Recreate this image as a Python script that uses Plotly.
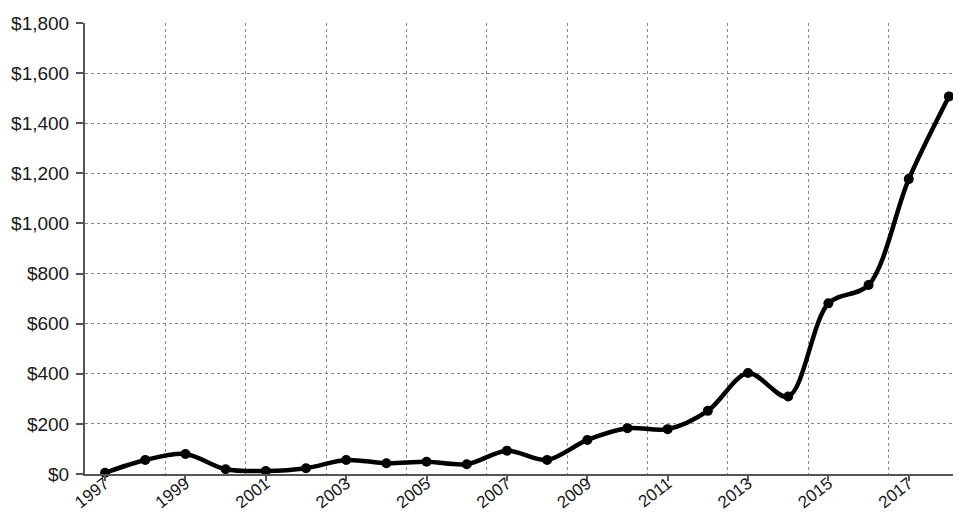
import plotly.graph_objects as go

years = list(range(1997, 2019))
values = [5, 56, 80, 19, 12, 23, 56, 43, 49, 39, 93, 56, 136, 183, 179, 252, 403, 309, 681, 754, 1177, 1507]
y_ticks = [0, 200, 400, 600, 800, 1000, 1200, 1400, 1600, 1800]
y_tick_labels = ["$0", "$200", "$400", "$600", "$800", "$1,000", "$1,200", "$1,400", "$1,600", "$1,800"]
x_tick_years = list(range(1997, 2019, 2))
x_grid_positions = [y + 0.5 for y in range(1998, 2018, 2)]

fig = go.Figure()
fig.add_trace(go.Scatter(
    x=years, y=values, mode="lines+markers",
    line=dict(color="#000000", width=4.5, shape="spline", smoothing=0.9),
    marker=dict(color="#000000", size=10),
    cliponaxis=False, showlegend=False,
))

font_family = "Liberation Sans, Arial, sans-serif"
fig.update_layout(
    width=953, height=504,
    margin=dict(l=77, r=0, t=15, b=38, autoexpand=False),
    paper_bgcolor="white", plot_bgcolor="white",
    font=dict(family=font_family, color="#1a1a1a"),
    xaxis=dict(
        range=[1996.5, 2018.3], automargin=False,
        tickvals=x_tick_years, ticktext=[str(y) for y in x_tick_years],
        tickangle=-38, tickfont=dict(size=17, color="#1a1a1a"),
        ticks="outside", ticklen=5, tickcolor="#555555", tickwidth=1.5,
        ticklabelstandoff=-14,
        showgrid=False, zeroline=False,
        showline=True, linecolor="#555555", linewidth=2,
        minor=dict(tickvals=x_grid_positions, showgrid=True, gridcolor="#888888",
                   griddash="dot", gridwidth=1, ticks=""),
    ),
    yaxis=dict(
        range=[0, 1800], automargin=False,
        tickvals=y_ticks, ticktext=y_tick_labels,
        tickfont=dict(size=19, color="#1a1a1a"),
        ticks="outside", ticklen=7, tickcolor="#555555", tickwidth=1.5,
        ticklabelstandoff=3,
        showgrid=True, gridcolor="#888888", griddash="dot", gridwidth=1,
        zeroline=False,
        showline=True, linecolor="#555555", linewidth=2,
    ),
)

fig.write_html("out.html")
